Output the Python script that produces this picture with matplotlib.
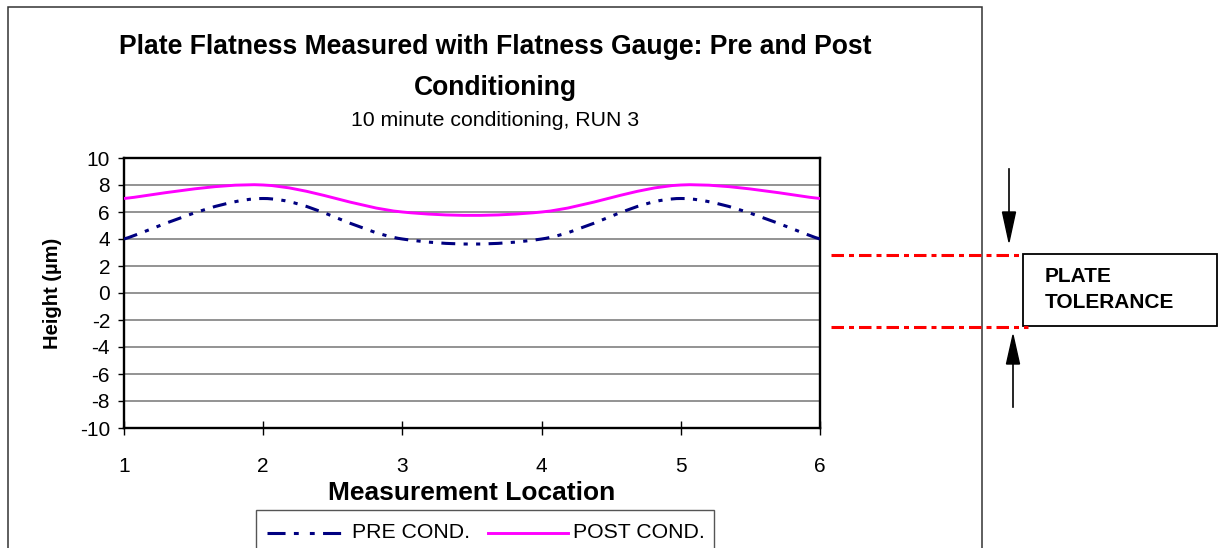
import numpy as np
import matplotlib.pyplot as plt
from matplotlib.path import Path
from matplotlib.patches import PathPatch, Rectangle, Polygon
from matplotlib.lines import Line2D

plt.rcParams['font.family'] = ['Liberation Sans', 'DejaVu Sans']
plt.rcParams['lines.scale_dashes'] = False
plt.rcParams['axes.unicode_minus'] = False

# data
locations = [1, 2, 3, 4, 5, 6]
pre_cond = [4, 7, 4, 4, 7, 4]
post_cond = [7, 8, 6, 6, 8, 7]
y_ticks = list(range(-10, 11, 2))

W, H = 1222, 548


def fx(x):
    return x / W


def fy(y):
    return 1 - y / H


def smooth_path(xs, ys):
    """Excel-style smoothed line: one cubic bezier per segment."""
    pts = np.column_stack([xs, ys]).astype(float)
    ext = np.vstack([pts[0], pts, pts[-1]])
    verts = [pts[0]]
    codes = [Path.MOVETO]
    for i in range(len(pts) - 1):
        p0, p1, p2, p3 = ext[i], ext[i + 1], ext[i + 2], ext[i + 3]
        verts += [p1 + (p2 - p0) / 6, p2 - (p3 - p1) / 6, p2]
        codes += [Path.CURVE4] * 3
    return Path(verts, codes)


pre_style = dict(color='#000080', lw=2.2, linestyle=(0, (10, 6, 3, 6, 3, 6)))
post_style = dict(color='#FF00FF', lw=2.1, linestyle='-')

fig = plt.figure(figsize=(W / 100, H / 100), dpi=100)
ax = fig.add_axes([fx(124), fy(428), 696 / W, 270 / H])

ax.add_patch(PathPatch(smooth_path(locations, pre_cond), fill=False, zorder=3, **pre_style))
ax.add_patch(PathPatch(smooth_path(locations, post_cond), fill=False, zorder=3, **post_style))

ax.set_xlim(1, 6)
ax.set_ylim(-10, 10)
ax.set_xticks(locations)
ax.set_yticks(y_ticks)
ax.yaxis.grid(True, color='#808080', lw=1.2)
ax.set_axisbelow(True)
for s in ax.spines.values():
    s.set_linewidth(1.7)
    s.set_color('black')
ax.tick_params(axis='y', direction='out', length=4, width=1, pad=6, labelsize=15)
ax.tick_params(axis='x', direction='inout', length=10, width=1, pad=16, labelsize=15)

ax.set_xlabel('Measurement Location', fontsize=19, fontweight='bold')
ax.xaxis.set_label_coords(0.5, (428 - 493) / 270)
ax.xaxis.label.set_va('center')
ax.set_ylabel('Height (µm)', fontsize=14.5, fontweight='bold')
ax.yaxis.set_label_coords((53 - 124) / 696, 0.5)
ax.yaxis.label.set_va('center')

# titles
fig.text(fx(495), fy(47), 'Plate Flatness Measured with Flatness Gauge: Pre and Post',
         ha='center', va='center', fontsize=19.1, fontweight='bold')
fig.text(fx(495), fy(88), 'Conditioning', ha='center', va='center',
         fontsize=19.1, fontweight='bold')
fig.text(fx(495), fy(121), '10 minute conditioning, RUN 3', ha='center', va='center',
         fontsize=15.3)

# chart area border (runs off the bottom)
fig.add_artist(Rectangle((fx(8), fy(560)), 974 / W, 553 / H, transform=fig.transFigure,
                         fill=False, edgecolor='#333333', lw=1.1, clip_on=False))

# legend box (also cut off at the bottom)
fig.add_artist(Rectangle((fx(256), fy(560)), 458 / W, 50 / H, transform=fig.transFigure,
                         fill=False, edgecolor='#555555', lw=1.0, clip_on=False))
fig.add_artist(Line2D([fx(267), fx(342)], [fy(533)] * 2, transform=fig.transFigure,
                      color='#000080', lw=2.2, linestyle=(0, (13, 6, 3.5, 8, 3.5, 6))))
fig.text(fx(352), fy(533), 'PRE COND.', va='center', fontsize=15.3)
fig.add_artist(Line2D([fx(488), fx(568)], [fy(533)] * 2, transform=fig.transFigure, **post_style))
fig.text(fx(573), fy(533), 'POST COND.', va='center', fontsize=15.3)

# tolerance band markers
tol_style = dict(color='red', lw=2.2, linestyle=(0, (9, 3.6, 3.6, 3.6)))
fig.add_artist(Line2D([fx(831), fx(1021)], [fy(255)] * 2, transform=fig.transFigure, **tol_style))
fig.add_artist(Line2D([fx(831), fx(1028)], [fy(327)] * 2, transform=fig.transFigure, **tol_style))

# arrows pointing at the band
fig.add_artist(Line2D([fx(1009)] * 2, [fy(169), fy(214)], transform=fig.transFigure,
                      color='black', lw=1.2))
fig.add_artist(Polygon([(fx(1002.5), fy(212)), (fx(1015.5), fy(212)), (fx(1009), fy(242))],
                       closed=True, transform=fig.transFigure, color='black'))
fig.add_artist(Line2D([fx(1013)] * 2, [fy(407), fy(362)], transform=fig.transFigure,
                      color='black', lw=1.2))
fig.add_artist(Polygon([(fx(1006.5), fy(364)), (fx(1019.5), fy(364)), (fx(1013), fy(335))],
                       closed=True, transform=fig.transFigure, color='black'))

fig.add_artist(Rectangle((fx(1023), fy(326)), 194 / W, 72 / H, transform=fig.transFigure,
                         fill=False, edgecolor='black', lw=1.3))
fig.text(fx(1045), fy(277), 'PLATE', va='center', fontsize=15, fontweight='bold')
fig.text(fx(1045), fy(302), 'TOLERANCE', va='center', fontsize=15, fontweight='bold')

fig.savefig('out.png', dpi=100)
